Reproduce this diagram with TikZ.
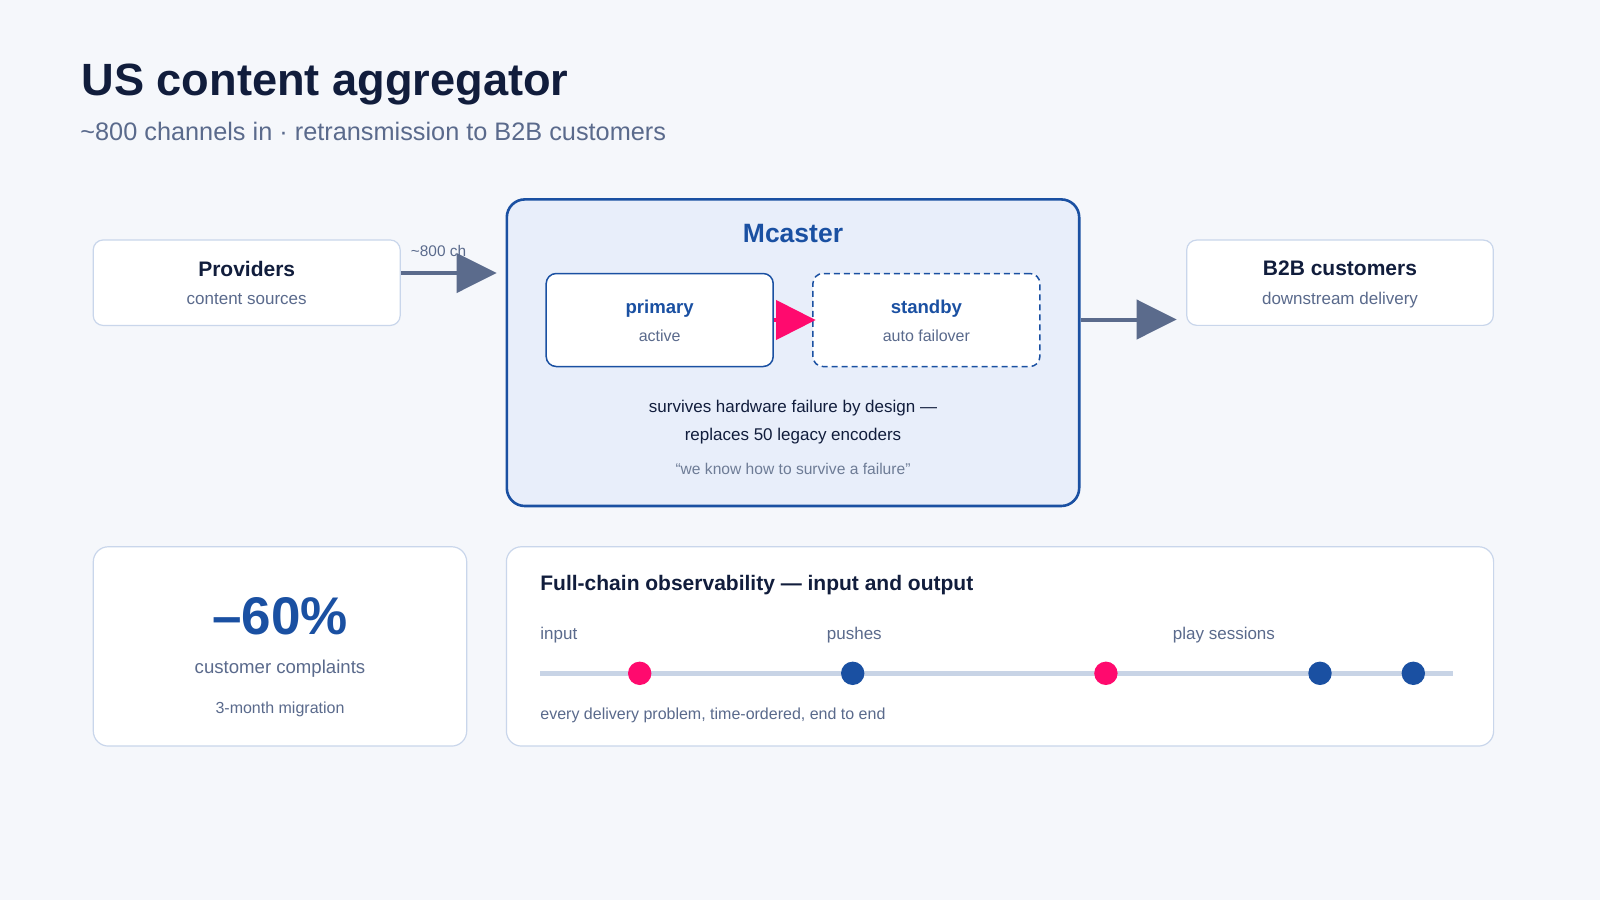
\documentclass[tikz,border=0pt]{standalone}
\usepackage{fontspec}
\setmainfont{Liberation Sans}
\usetikzlibrary{arrows.meta}
\definecolor{bg}{HTML}{F5F7FB}
\definecolor{navy}{HTML}{111D3C}
\definecolor{slate}{HTML}{5A6A8C}
\definecolor{quotec}{HTML}{6E7C96}
\definecolor{mblue}{HTML}{1A50A2}
\definecolor{mfill}{HTML}{E8EEFA}
\definecolor{cardline}{HTML}{C9D6EB}
\definecolor{pinkc}{HTML}{FF0A6E}
\definecolor{arrowc}{HTML}{5B6B8C}
\definecolor{trackc}{HTML}{C8D4E6}
\newcommand\fsz[1]{\fontsize{#1}{#1}\selectfont}
\begin{document}
\begin{tikzpicture}[x=0.5pt,y=-0.5pt,
  card/.style={draw=cardline, line width=0.6pt, fill=white, rounded corners=5pt, inner sep=0pt},
  bigcard/.style={card, rounded corners=7.5pt},
  mbox/.style={draw=mblue, line width=1.3pt, fill=mfill, rounded corners=9pt, inner sep=0pt},
  inbox/.style={draw=mblue, line width=0.75pt, fill=white, rounded corners=5pt, inner sep=0pt, minimum width=113.5pt, minimum height=46.5pt},
  txt/.style={inner sep=0pt, anchor=base},
  ltxt/.style={inner sep=0pt, anchor=base west},
  flow/.style={draw=arrowc, line width=2pt, -{Triangle[length=20pt,width=19.5pt]}},
  pflow/.style={draw=pinkc, line width=2pt, -{Triangle[length=19.75pt,width=19.5pt]}},
  dot/.style={circle, inner sep=0pt, minimum size=11.7pt},
]
\useasboundingbox[fill=bg] (0,0) rectangle (1600,900);

% titles
\node[ltxt, font=\fsz{22.6}\bfseries, text=navy] (title) at (81,95) {US content aggregator};
\node[ltxt, font=\fsz{12.65}, text=slate] (subtitle) at (80,140) {\textasciitilde800 channels in · retransmission to B2B customers};

% providers
\node[card, minimum width=153.5pt, minimum height=42.75pt] (prov) at (246.7,282.7) {};
\node[txt, font=\fsz{10.5}\bfseries, text=navy] at (246.7,276.7) {Providers};
\node[txt, font=\fsz{8.5}, text=slate] at (246.7,304) {content sources};

% b2b
\node[card, minimum width=153.3pt, minimum height=42.65pt] (b2b) at (1340,282.7) {};
\node[txt, font=\fsz{10.5}\bfseries, text=navy] at (1340,275.7) {B2B customers};
\node[txt, font=\fsz{8.5}, text=slate] at (1340,304) {downstream delivery};

% mcaster
\node[mbox, minimum width=286.2pt, minimum height=153.3pt] (mc) at (793,352.7) {};
\node[txt, font=\fsz{13.25}\bfseries, text=mblue] at (793,242.7) {Mcaster};
\node[inbox] (prim) at (659.7,320) {};
\node[inbox, dash pattern=on 3pt off 2pt] (stby) at (926.4,320) {};
\node[txt, font=\fsz{9.3}\bfseries, text=mblue] at (659.7,313.5) {primary};
\node[txt, font=\fsz{8}, text=slate] at (659.7,341.7) {active};
\node[txt, font=\fsz{9.3}\bfseries, text=mblue] at (926.4,313.5) {standby};
\node[txt, font=\fsz{8}, text=slate] at (926.4,341.7) {auto failover};
\node[txt, font=\fsz{8.5}, text=navy] at (793,412.7) {survives hardware failure by design —};
\node[txt, font=\fsz{8.5}, text=navy] at (793,440) {replaces 50 legacy encoders};
\node[txt, font=\fsz{7.8}, text=quotec] at (793,474.3) {“we know how to survive a failure”};

% arrows
\node[ltxt, font=\fsz{7.7}, text=slate] (chlbl) at (410.5,256) {\textasciitilde800 ch};
\coordinate (inTip) at (496.7,273);
\draw[flow] (prov.east |- inTip) -- (inTip);
\draw[pflow] (prim.east) -- ([xshift=1.75pt]stby.west);
\coordinate (outTip) at (1176.7,319.5);
\draw[flow] (mc.east |- outTip) -- (outTip);

% stat card
\node[bigcard, minimum width=186.7pt, minimum height=99.65pt] (stat) at (280,646.4) {};
\node[txt, font=\fsz{26.5}\bfseries, text=mblue] at (280,634.3) {–60\%};
\node[txt, font=\fsz{9.3}, text=slate] at (280,673.3) {customer complaints};
\node[txt, font=\fsz{8}, text=slate] at (280,713.3) {3-month migration};

% observability card
\node[bigcard, minimum width=493.6pt, minimum height=99.65pt] (obs) at (1000,646.4) {};
\node[ltxt, font=\fsz{10.5}\bfseries, text=navy] at (540,590) {Full-chain observability — input and output};
\node[ltxt, font=\fsz{8.5}, text=slate] at (540,639.3) {input};
\node[ltxt, font=\fsz{8.5}, text=slate] at (826.5,639.3) {pushes};
\node[ltxt, font=\fsz{8.5}, text=slate] at (1172.5,639.3) {play sessions};
\coordinate (t0) at (540,673.3);
\coordinate (t1) at (1453.4,673.3);
\draw[trackc, line width=2.3pt] (t0) -- (t1);
\node[dot, fill=pinkc] (d1) at (639.7,673.3) {};
\node[dot, fill=mblue] (d2) at (852.7,673.3) {};
\node[dot, fill=pinkc] (d3) at (1105.9,673.3) {};
\node[dot, fill=mblue] (d4) at (1320,673.3) {};
\node[dot, fill=mblue] (d5) at (1413.3,673.3) {};
\node[ltxt, font=\fsz{8}, text=slate] at (540,719.3) {every delivery problem, time-ordered, end to end};
\end{tikzpicture}
\end{document}
